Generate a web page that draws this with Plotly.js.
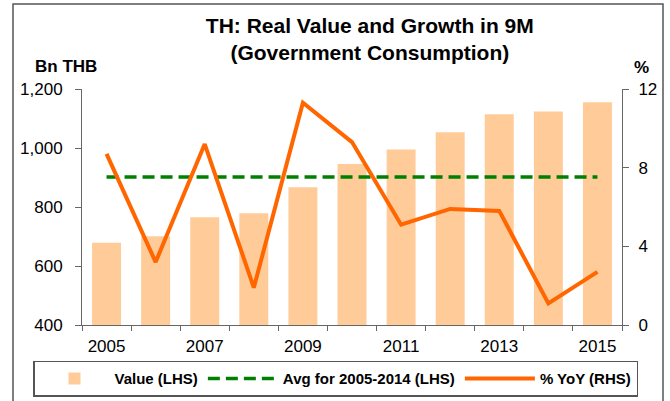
<!DOCTYPE html>
<html>
<head>
<meta charset="utf-8">
<script src="https://cdn.plot.ly/plotly-3.0.1.min.js"></script>
<style>
  html, body { margin: 0; padding: 0; background: #ffffff; }
  #chart { width: 670px; height: 401px; }
</style>
</head>
<body>
<div id="chart"></div>
<script>
// ---- data ----
const years = [2005, 2006, 2007, 2008, 2009, 2010, 2011, 2012, 2013, 2014, 2015];
const valueBn = [679, 701, 765, 779, 867, 946, 995, 1053, 1114, 1124, 1155];
const avgBn = [902, 902, 902, 902, 902, 902, 902, 902, 902, 902, 902];
const yoyPct = [8.7, 3.2, 9.2, 1.9, 11.3, 9.3, 5.1, 5.9, 5.8, 1.1, 2.7];
const yearLabels = [2005, 2007, 2009, 2011, 2013, 2015];
const seriesNames = ['Value (LHS)', 'Avg for 2005-2014 (LHS)', '% YoY (RHS)'];
const titleLines = ['TH: Real Value and Growth in 9M', '(Government Consumption)'];
const leftUnit = 'Bn THB';
const rightUnit = '%';

const FONT = 'Arial, "Liberation Sans", sans-serif';
const AXC = '#666666';

const traces = [
  {
    type: 'bar', name: seriesNames[0], x: years, y: valueBn,
    marker: { color: '#FFCC99', line: { width: 0 } },
    yaxis: 'y', hoverinfo: 'x+y'
  },
  {
    type: 'scatter', mode: 'lines', name: seriesNames[1], x: years, y: avgBn,
    line: { color: '#008000', width: 3.5, dash: '12px,6px' },
    yaxis: 'y'
  },
  {
    type: 'scatter', mode: 'lines', name: seriesNames[2], x: years, y: yoyPct,
    line: { color: '#FF6600', width: 4 },
    yaxis: 'y2'
  }
];

const PLOT_H = 236;
const layout = {
  width: 670, height: 401,
  margin: { l: 82, r: 48, t: 89, b: 76, pad: 0, autoexpand: false },
  paper_bgcolor: '#ffffff', plot_bgcolor: '#ffffff',
  font: { family: FONT, size: 17, color: '#000000' },
  title: {
    text: titleLines.join('<br>'),
    font: { family: FONT, size: 21, color: '#000000', weight: 'bold' },
    x: 0.533, xref: 'paper', xanchor: 'center',
    y: 1 - 32.5 / 401, yref: 'container', yanchor: 'top'
  },
  bargap: 0.41,
  showlegend: true,
  legend: {
    orientation: 'h',
    x: (33 - 82) / 540, xanchor: 'left', xref: 'paper',
    y: (325.7 - 397.5) / PLOT_H, yanchor: 'bottom', yref: 'paper',
    font: { family: FONT, size: 15, color: '#000000', weight: 'bold' },
    bordercolor: '#555555', borderwidth: 1.5, bgcolor: '#ffffff',
    itemwidth: 70, traceorder: 'normal'
  },
  xaxis: {
    type: 'linear', range: [2004.5, 2015.5],
    tickmode: 'array', tickvals: yearLabels, ticktext: yearLabels.map(String),
    ticks: 'outside', ticklen: 0,
    minor: { tickmode: 'linear', tick0: 2004.5, dtick: 1, ticks: 'outside', ticklen: 5, tickcolor: AXC, tickwidth: 1, showgrid: false },
    showline: true, linecolor: AXC, linewidth: 1,
    showgrid: false, zeroline: false,
    tickfont: { family: FONT, size: 17, color: '#000000' },
    ticklabelstandoff: 6,
    fixedrange: true
  },
  yaxis: {
    range: [400, 1200], dtick: 200, tick0: 400, tickformat: ',',
    ticks: 'outside', ticklen: 6, tickcolor: AXC, tickwidth: 1,
    showline: true, linecolor: AXC, linewidth: 1,
    showgrid: false, zeroline: false,
    tickfont: { family: FONT, size: 17, color: '#000000' },
    ticklabelstandoff: 9,
    fixedrange: true
  },
  yaxis2: {
    overlaying: 'y', side: 'right',
    range: [0, 12], dtick: 4, tick0: 0,
    ticks: 'outside', ticklen: 6, tickcolor: AXC, tickwidth: 1,
    showline: true, linecolor: AXC, linewidth: 1,
    showgrid: false, zeroline: false,
    tickfont: { family: FONT, size: 17, color: '#000000' },
    ticklabelstandoff: 6,
    fixedrange: true
  },
  annotations: [
    { text: leftUnit, xref: 'paper', yref: 'paper', x: (66 - 82) / 540, y: (325.7 - 67) / PLOT_H,
      xanchor: 'center', yanchor: 'middle', showarrow: false,
      font: { family: FONT, size: 17, color: '#000000', weight: 'bold' } },
    { text: rightUnit, xref: 'paper', yref: 'paper', x: (641 - 82) / 540, y: (325.7 - 68) / PLOT_H,
      xanchor: 'center', yanchor: 'middle', showarrow: false,
      font: { family: FONT, size: 17, color: '#000000', weight: 'bold' } }
  ],
  shapes: [
    { type: 'rect', xref: 'paper', yref: 'paper', layer: 'below',
      x0: (13 - 82) / 540, x1: (663 - 82) / 540,
      y0: (325.7 - 410) / PLOT_H, y1: (325.7 - 4.7) / PLOT_H,
      line: { color: '#555555', width: 1.5 }, fillcolor: 'rgba(0,0,0,0)' }
  ]
};

Plotly.newPlot('chart', traces, layout, { displayModeBar: false, staticPlot: true });
</script>
</body>
</html>
